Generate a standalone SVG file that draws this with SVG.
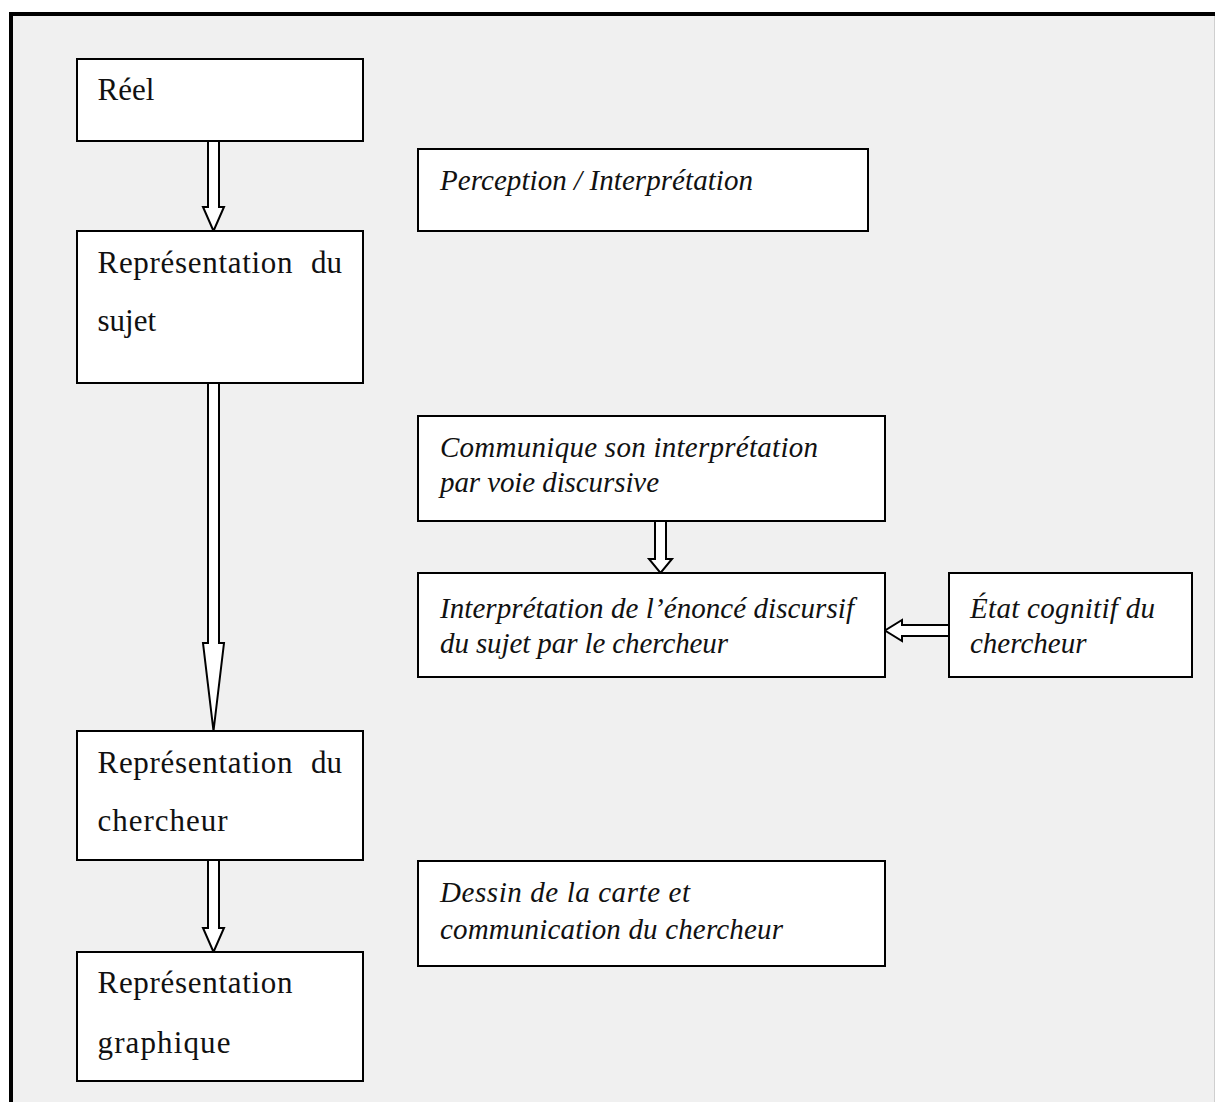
<svg xmlns="http://www.w3.org/2000/svg" width="1215" height="1102" viewBox="0 0 1215 1102">
  <style>
    .box { fill: #ffffff; stroke: #000000; stroke-width: 2; }
    .arrow { fill: #ffffff; stroke: #000000; stroke-width: 2; stroke-linejoin: miter; }
    .t { font-family: "Liberation Serif", "DejaVu Serif", serif; font-size: 31px; fill: #111111; }
    .i { font-style: italic; font-size: 29px; }
  </style>
  <!-- page background and frame -->
  <rect x="0" y="0" width="1215" height="1102" fill="#ffffff"/>
  <rect x="11" y="14" width="1204" height="1088" fill="#f0f0f0"/>
  <path d="M11 1102 V14 H1215" fill="none" stroke="#000000" stroke-width="4"/>
  <line x1="1214.5" y1="16" x2="1214.5" y2="1102" stroke="#cfcfcf" stroke-width="1"/>

  <!-- connectors: hollow block arrows -->
  <g id="connectors">
    <path class="arrow" d="M208 141 V207 H203 L213.5 231 L224 207 H219 V141 Z"/>
    <path class="arrow" d="M208 383 V643 H203 L213.5 731 L224 643 H219 V383 Z"/>
    <path class="arrow" d="M208 860 V928 H203 L213.5 952 L224 928 H219 V860 Z"/>
    <path class="arrow" d="M655 521 V559 H649 L660.5 573 L672 559 H666 V521 Z"/>
    <path class="arrow" d="M949 625 H902 V620 L885 630.5 L902 641 V636 H949 Z"/>
  </g>

  <g id="reel">
    <rect class="box" x="77" y="59" width="286" height="82"/>
    <text class="t" x="97.5" y="100">Réel</text>
  </g>
  <g id="representation-sujet">
    <rect class="box" x="77" y="231" width="286" height="152"/>
    <text class="t" x="97.5" y="273" textLength="195" lengthAdjust="spacing">Représentation</text>
    <text class="t" x="342" y="273" text-anchor="end">du</text>
    <text class="t" x="97.5" y="331">sujet</text>
  </g>
  <g id="perception">
    <rect class="box" x="418" y="149" width="450" height="82"/>
    <text class="t i" x="440" y="190" textLength="313" lengthAdjust="spacing">Perception / Interprétation</text>
  </g>
  <g id="communique">
    <rect class="box" x="418" y="416" width="467" height="105"/>
    <text class="t i" x="440" y="457" textLength="378" lengthAdjust="spacing">Communique son interprétation</text>
    <text class="t i" x="440" y="492" textLength="219" lengthAdjust="spacing">par voie discursive</text>
  </g>
  <g id="interpretation-enonce">
    <rect class="box" x="418" y="573" width="467" height="104"/>
    <text class="t i" x="440" y="618" textLength="414" lengthAdjust="spacing">Interprétation de l’énoncé discursif</text>
    <text class="t i" x="440" y="653" textLength="288" lengthAdjust="spacing">du sujet par le chercheur</text>
  </g>
  <g id="etat-cognitif">
    <rect class="box" x="949" y="573" width="243" height="104"/>
    <text class="t i" x="970" y="618" textLength="185" lengthAdjust="spacing">État cognitif du</text>
    <text class="t i" x="970" y="653">chercheur</text>
  </g>
  <g id="representation-chercheur">
    <rect class="box" x="77" y="731" width="286" height="129"/>
    <text class="t" x="97.5" y="773" textLength="195" lengthAdjust="spacing">Représentation</text>
    <text class="t" x="342" y="773" text-anchor="end">du</text>
    <text class="t" x="97.5" y="831" textLength="130" lengthAdjust="spacing">chercheur</text>
  </g>
  <g id="dessin">
    <rect class="box" x="418" y="861" width="467" height="105"/>
    <text class="t i" x="440" y="902" textLength="250" lengthAdjust="spacing">Dessin de la carte et</text>
    <text class="t i" x="440" y="939" textLength="343" lengthAdjust="spacing">communication du chercheur</text>
  </g>
  <g id="representation-graphique">
    <rect class="box" x="77" y="952" width="286" height="129"/>
    <text class="t" x="97.5" y="993" textLength="195" lengthAdjust="spacing">Représentation</text>
    <text class="t" x="97.5" y="1053" textLength="133" lengthAdjust="spacing">graphique</text>
  </g>
</svg>
